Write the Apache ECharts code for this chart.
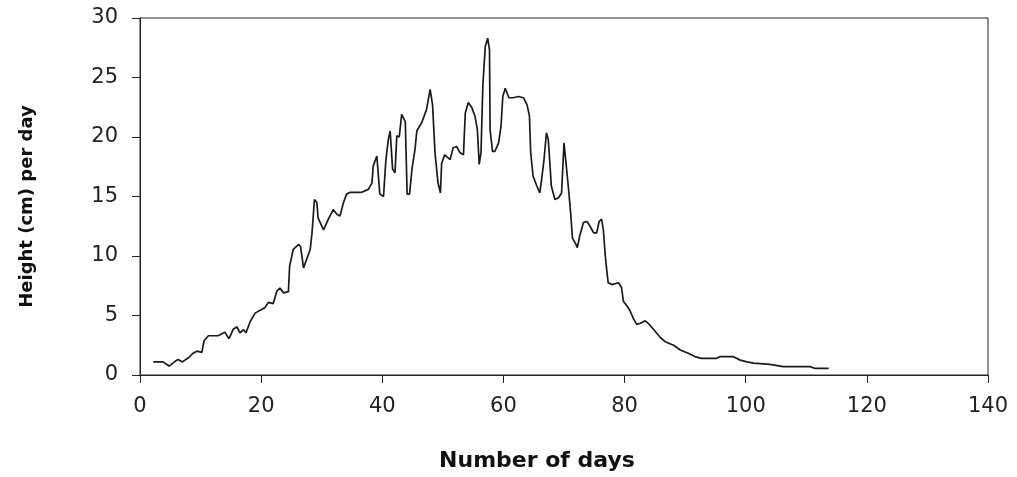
<!DOCTYPE html>
<html>
<head>
<meta charset="utf-8">
<title>Height per day</title>
<script src="https://cdn.jsdelivr.net/npm/echarts@6/dist/echarts.min.js"></script>
<style>
  html, body { margin: 0; padding: 0; background: #fff; }
  #chart1 { width: 1017px; height: 477px; }
</style>
</head>
<body>
<div id="chart1"></div>
<script>
// values
var days = [2.2, 3.8, 4.8, 5.8, 6.3, 7.0, 8.0, 8.7, 9.4, 10.2, 10.6, 11.3, 12.9, 14.0, 14.7, 15.4, 16.0, 16.5, 17.1, 17.5,
  18.2, 19.0, 20.6, 21.2, 22.0, 22.6, 23.1, 23.7, 24.5, 24.7, 25.3, 26.2, 26.5, 27.0, 27.5, 28.1, 28.4, 28.8, 29.2, 29.4,
  30.3, 31.1, 31.9, 32.5, 33.0, 33.6, 34.1, 34.7, 36.6, 37.7, 38.3, 38.5, 39.1, 39.4, 39.6, 40.2, 40.6, 41.0, 41.3, 41.7,
  42.1, 42.4, 42.8, 43.2, 43.8, 44.1, 44.5, 44.9, 45.4, 45.7, 46.5, 47.3, 47.9, 48.3, 48.7, 49.2, 49.6, 49.8, 50.3, 51.2,
  51.7, 52.3, 52.8, 53.4, 53.7, 54.2, 54.8, 55.3, 55.7, 56.0, 56.3, 56.6, 57.0, 57.4, 57.7, 57.8, 58.2, 58.6, 59.2, 59.6,
  59.9, 60.3, 60.9, 61.6, 62.5, 63.3, 63.9, 64.3, 64.5, 64.9, 65.5, 66.0, 66.3, 66.7, 67.1, 67.4, 67.7, 67.9, 68.5, 69.1,
  69.6, 70.0, 70.3, 70.7, 71.1, 71.4, 72.0, 72.2, 72.6, 73.2, 73.8, 74.3, 74.9, 75.4, 75.8, 76.2, 76.5, 76.8, 77.1, 77.3,
  77.9, 79.0, 79.5, 79.8, 80.4, 80.9, 81.5, 82.0, 82.6, 83.4, 84.1, 85.0, 85.9, 86.7, 88.1, 89.2, 90.6, 91.6, 92.7, 95.2,
  95.8, 97.9, 99.1, 100.2, 101.3, 104.0, 106.2, 110.6, 111.5, 113.7];
var heights = [1.1, 1.1, 0.75, 1.15, 1.3, 1.1, 1.45, 1.8, 2.0, 1.9, 2.9, 3.3, 3.3, 3.6, 3.05, 3.85, 4.05, 3.55, 3.8, 3.55,
  4.5, 5.2, 5.65, 6.1, 6.0, 7.05, 7.3, 6.9, 7.0, 9.15, 10.55, 10.97, 10.8, 9.0, 9.7, 10.55, 11.95, 14.75, 14.5, 13.2,
  12.2, 13.1, 13.9, 13.5, 13.35, 14.5, 15.2, 15.35, 15.35, 15.6, 16.15, 17.55, 18.4, 18.5, 15.2, 15.0, 18.1, 19.8, 20.5, 17.3,
  17.0, 20.1, 20.0, 21.9, 21.3, 15.2, 15.2, 17.3, 18.95, 20.5, 21.2, 22.3, 24.0, 22.7, 18.7, 16.15, 15.3, 17.8, 18.5, 18.1,
  19.1, 19.2, 18.7, 18.5, 22.0, 22.9, 22.45, 21.75, 20.6, 17.7, 18.7, 24.3, 27.6, 28.3, 27.35, 20.6, 18.8, 18.8, 19.5, 20.9,
  23.4, 24.1, 23.3, 23.3, 23.4, 23.3, 22.7, 21.75, 18.7, 16.7, 15.9, 15.3, 16.4, 18.1, 20.35, 19.8, 17.55, 15.9, 14.75, 14.9,
  15.3, 19.5, 19.4, 15.9, 13.6, 11.5, 10.95, 10.7, 11.7, 12.8, 12.9, 12.5, 11.95, 11.95, 12.9, 13.1, 12.2, 10.1, 8.6, 7.75,
  7.6, 7.75, 7.35, 6.2, 5.8, 5.4, 4.7, 4.25, 4.35, 4.55, 4.25, 3.7, 3.15, 2.8, 2.5, 2.1, 1.8, 1.55, 1.4, 1.4,
  1.55, 1.55, 1.25, 1.1, 1.0, 0.9, 0.7, 0.7, 0.55, 0.55];

var font = '"DejaVu Sans", "Liberation Sans", sans-serif';
var myChart = echarts.init(document.getElementById('chart1'));

myChart.setOption({
    animation: false,
    grid: {
        left: 140, right: 29, top: 18, bottom: 101,
        show: true, borderColor: '#222', borderWidth: 1
    },
    xAxis: {
        type: 'value', min: 0, max: 140, interval: 20,
        name: 'Number of days', nameLocation: 'middle', nameGap: 75,
        nameTextStyle: { fontFamily: font, fontSize: 22, fontWeight: 'bold', color: '#111', padding: [0, 54, 0, 0] },
        axisLine: { lineStyle: { color: '#222', width: 1 } },
        axisTick: { show: true, inside: false, length: 8, lineStyle: { color: '#222' } },
        axisLabel: { margin: 21, fontFamily: font, fontSize: 21, color: '#222' },
        splitLine: { show: false }
    },
    yAxis: {
        type: 'value', min: 0, max: 30, interval: 5,
        name: 'Height (cm) per day', nameLocation: 'middle', nameGap: 104,
        nameTextStyle: { fontFamily: font, fontSize: 18, fontWeight: 'bold', color: '#111', padding: [0, 20, 0, 0] },
        axisLine: { show: true, lineStyle: { color: '#222', width: 1 } },
        axisTick: { show: true, inside: false, length: 8, lineStyle: { color: '#222' } },
        axisLabel: { margin: 22, fontFamily: font, fontSize: 21, color: '#222' },
        splitLine: { show: false }
    },
    series: [{
        name: 'Height',
        type: 'line',
        data: days.map(function (d, i) { return [d, heights[i]]; }),
        showSymbol: false,
        lineStyle: { color: '#1a1a1a', width: 1.7 }
    }]
});
</script>
</body>
</html>
